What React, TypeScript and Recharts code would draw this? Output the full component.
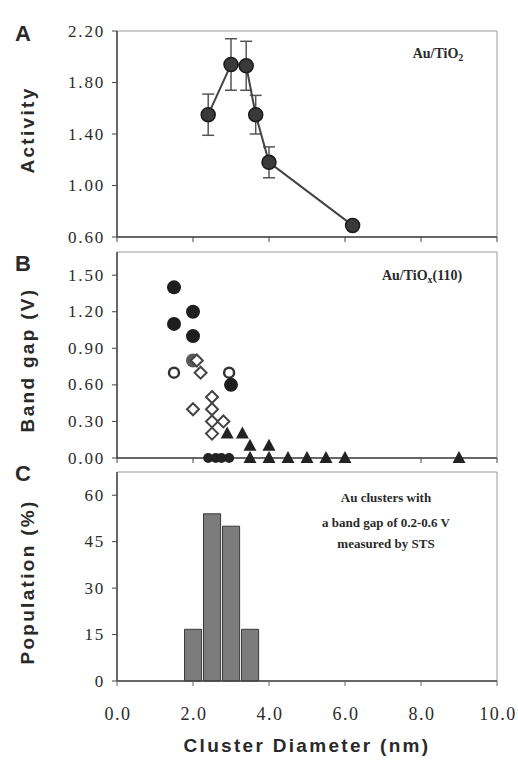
import { ComposedChart, ScatterChart, Line, Scatter, Bar, XAxis, YAxis, ErrorBar, ReferenceArea } from 'recharts'

// shared x axis (cluster diameter, nm)
const xTicks = [0, 2, 4, 6, 8, 10]

// panel A: activity vs diameter
const activityTicks = [0.6, 1.0, 1.4, 1.8, 2.2]
const activityX = [2.4, 3.0, 3.4, 3.65, 4.0, 6.2]
const activityY = [1.55, 1.94, 1.93, 1.55, 1.18, 0.69]
const activityErr = [0.16, 0.2, 0.19, 0.15, 0.12, 0]

// panel B: band gap vs diameter, one list per marker kind
const gapTicks = [0, 0.3, 0.6, 0.9, 1.2, 1.5]
const filledCircles = [[1.5, 1.4], [1.5, 1.1], [2.0, 1.2], [2.0, 1.0], [3.0, 0.6]]
const grayCircles = [[2.0, 0.8]]
const zeroBlobs = [[2.4, 0], [2.6, 0], [2.75, 0], [2.95, 0]]
const openCircles = [[1.5, 0.7], [2.95, 0.7]]
const openDiamonds = [[2.1, 0.8], [2.2, 0.7], [2.0, 0.4], [2.5, 0.5], [2.5, 0.4], [2.5, 0.3], [2.5, 0.2], [2.8, 0.3]]
const triangles = [[2.9, 0.2], [3.3, 0.2], [3.5, 0.1], [4.0, 0.1], [3.5, 0], [4.0, 0], [4.5, 0], [5.0, 0], [5.5, 0], [6.0, 0], [9.0, 0]]

// panel C: population histogram
const popTicks = [0, 15, 30, 45, 60]
const binCenters = [2.0, 2.5, 3.0, 3.5]
const population = [16.7, 54, 50, 16.7]

const activityData = activityX.map((x, i) => ({ x, y: activityY[i], err: activityErr[i] }))
const pts = (arr: number[][]) => arr.map(([x, y]) => ({ x, y }))
const binData = binCenters.map((x, i) => ({ x, pop: population[i] }))

const W = 518
const serif = '"Liberation Serif", "DejaVu Serif", serif'
const axisLine = { stroke: '#444', strokeWidth: 1.5 }
const frame = '#9a9a9a'
const titleFont = { fontFamily: '"Liberation Sans", Arial, sans-serif', fontWeight: 'bold' as const, fontSize: 19, letterSpacing: 2.3, fill: '#2a2a2a' }
const noteFont = { fontFamily: serif, fontWeight: 'bold' as const, fill: '#2a2a2a' }

// serif tick labels drawn at the positions recharts hands us
const yTick = (digits: number) => (p: any) => (
  <text x={p.x + 2} y={p.y} textAnchor="end" dominantBaseline="central" fontFamily={serif} fontSize={17} letterSpacing={1.8} fill="#2a2a2a">
    {digits ? Number(p.payload.value).toFixed(digits) : String(p.payload.value)}
  </text>
)
const xTick = (p: any) => (
  <text x={p.x + 1} y={p.y} textAnchor="middle" dominantBaseline="central" fontFamily={serif} fontSize={18} letterSpacing={1.5} fill="#2a2a2a">
    {Number(p.payload.value).toFixed(1)}
  </text>
)

const circle = (r: number, fill: string) => (p: any) => <circle cx={p.cx} cy={p.cy} r={r} fill={fill} />
const ring = (p: any) => <circle cx={p.cx} cy={p.cy} r={5} fill="#fff" stroke="#333" strokeWidth={2.5} />
const diamond = (p: any) => (
  <path d={`M${p.cx},${p.cy - 6} L${p.cx + 6},${p.cy} L${p.cx},${p.cy + 6} L${p.cx - 6},${p.cy} Z`} fill="#fff" stroke="#444" strokeWidth={2} />
)
const triangle = (p: any) => (
  <path d={`M${p.cx},${p.cy - 7} L${p.cx + 6.5},${p.cy + 5} L${p.cx - 6.5},${p.cy + 5} Z`} fill="#222" />
)

function Label({ x, y, text, rotate = false }: { x: number; y: number; text: string; rotate?: boolean }) {
  return (
    <text x={x} y={y} textAnchor="middle" dominantBaseline="central" transform={rotate ? `rotate(-90 ${x} ${y})` : undefined} {...titleFont}>
      {text}
    </text>
  )
}

export default function App() {
  return (
    <div style={{ position: 'absolute', left: 0, top: 0, width: W, height: 761, background: '#fff' }}>
      <div style={{ position: 'absolute', left: 0, top: 0 }}>
        <ComposedChart width={W} height={255} data={activityData} margin={{ top: 31, right: 21, left: 57, bottom: 12 }}>
          <ReferenceArea x1={0} x2={10} y1={0.6} y2={2.2} fill="none" stroke={frame} strokeWidth={1} />
          <XAxis type="number" dataKey="x" domain={[0, 10]} ticks={xTicks} interval={0} height={6} tickSize={5} tickFormatter={() => ''} axisLine={axisLine} tickLine={{ stroke: '#444' }} />
          <YAxis type="number" domain={[0.6, 2.2]} ticks={activityTicks} interval={0} width={60} tickSize={5} tickMargin={9} tick={yTick(2)} axisLine={axisLine} tickLine={{ stroke: '#444' }} />
          <Line dataKey="y" type="linear" stroke="#444" strokeWidth={2} isAnimationActive={false}
            dot={{ r: 7, fill: '#3a3a3a', stroke: '#1a1a1a', strokeWidth: 1.5 }}>
            <ErrorBar dataKey="err" direction="y" width={6} stroke="#555" strokeWidth={1.5} />
          </Line>
        </ComposedChart>
      </div>

      <div style={{ position: 'absolute', left: 0, top: 245 }}>
        <ScatterChart width={W} height={230} margin={{ top: 7, right: 21, left: 57, bottom: 12 }}>
          <ReferenceArea x1={0} x2={10} y1={0} y2={1.69} fill="none" stroke={frame} strokeWidth={1} />
          <XAxis type="number" dataKey="x" domain={[0, 10]} ticks={xTicks} interval={0} height={5} tickSize={5} tickFormatter={() => ''} axisLine={axisLine} tickLine={{ stroke: '#444' }} />
          <YAxis type="number" dataKey="y" domain={[0, 1.69]} ticks={gapTicks} interval={0} width={60} tickSize={5} tickMargin={9} tick={yTick(2)} axisLine={axisLine} tickLine={{ stroke: '#444' }} />
          <Scatter data={pts(grayCircles)} shape={circle(7, '#5a5a5a')} isAnimationActive={false} />
          <Scatter data={pts(openDiamonds)} shape={diamond} isAnimationActive={false} />
          <Scatter data={pts(openCircles)} shape={ring} isAnimationActive={false} />
          <Scatter data={pts(filledCircles)} shape={circle(7, '#1e1e1e')} isAnimationActive={false} />
          <Scatter data={pts(triangles)} shape={triangle} isAnimationActive={false} />
          <Scatter data={pts(zeroBlobs)} shape={circle(5, '#222')} isAnimationActive={false} />
        </ScatterChart>
      </div>

      <div style={{ position: 'absolute', left: 0, top: 465 }}>
        <ComposedChart width={W} height={296} data={binData} margin={{ top: 7, right: 21, left: 57, bottom: 30 }}>
          <ReferenceArea x1={0} x2={10} y1={0} y2={67.5} fill="none" stroke={frame} strokeWidth={1} />
          <XAxis type="number" dataKey="x" domain={[0, 10]} ticks={xTicks} interval={0} height={50} tickSize={5} tickMargin={28}
            tick={xTick} axisLine={axisLine} tickLine={{ stroke: '#666' }} />
          <YAxis type="number" domain={[0, 67.5]} ticks={popTicks} interval={0} width={60} tickSize={5} tickMargin={9} tick={yTick(0)} axisLine={axisLine} tickLine={{ stroke: '#444' }} />
          <Bar dataKey="pop" barSize={19} fill="#7c7c7c" stroke="#3a3a3a" strokeWidth={1} isAnimationActive={false} />
        </ComposedChart>
      </div>

      <svg width={W} height={761} style={{ position: 'absolute', left: 0, top: 0, pointerEvents: 'none' }}>
        <text x={23} y={33} textAnchor="middle" dominantBaseline="central" {...titleFont} fontSize={22} letterSpacing={0}>A</text>
        <text x={23} y={263} textAnchor="middle" dominantBaseline="central" {...titleFont} fontSize={22} letterSpacing={0}>B</text>
        <text x={23} y={473} textAnchor="middle" dominantBaseline="central" {...titleFont} fontSize={22} letterSpacing={0}>C</text>
        <Label x={27} y={130} text="Activity" rotate />
        <Label x={27} y={360} text="Band gap (V)" rotate />
        <Label x={27} y={582} text="Population (%)" rotate />
        <Label x={307} y={745} text="Cluster Diameter (nm)" />
        <text x={438} y={53} textAnchor="middle" dominantBaseline="central" {...noteFont} fontSize={14}>
          Au/TiO<tspan fontSize={10} dy={4}>2</tspan>
        </text>
        <text x={422} y={275} textAnchor="middle" dominantBaseline="central" {...noteFont} fontSize={14}>
          Au/TiO<tspan fontSize={10} dy={4}>x</tspan><tspan dy={-4}>(110)</tspan>
        </text>
        <text x={386} y={497} textAnchor="middle" dominantBaseline="central" {...noteFont} fontSize={13}>Au clusters with</text>
        <text x={386} y={522} textAnchor="middle" dominantBaseline="central" {...noteFont} fontSize={13}>a band gap of 0.2-0.6 V</text>
        <text x={386} y={543} textAnchor="middle" dominantBaseline="central" {...noteFont} fontSize={13}>measured by STS</text>
      </svg>
    </div>
  )
}
